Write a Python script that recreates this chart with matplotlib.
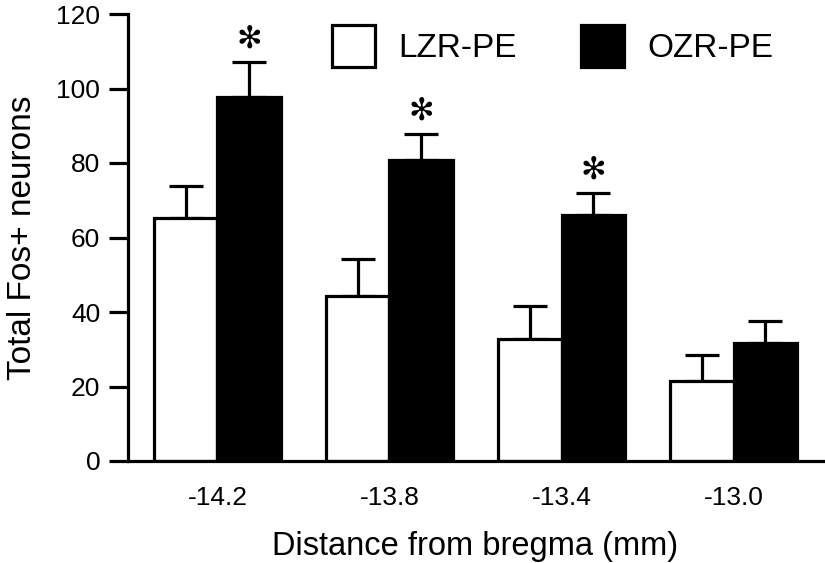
import matplotlib
matplotlib.use("Agg")
import matplotlib.pyplot as plt
import numpy as np

plt.rcParams['font.family'] = ['Liberation Sans', 'DejaVu Sans']

categories = ["-14.2", "-13.8", "-13.4", "-13.0"]
lzr_values = [65.3, 44.4, 32.8, 21.6]
lzr_err = [8.6, 9.8, 8.8, 6.8]
ozr_values = [97.8, 80.7, 66.0, 31.7]
ozr_err = [9.3, 7.0, 5.9, 5.8]
significant = [True, True, True, False]
series_labels = ["LZR-PE", "OZR-PE"]
y_ticks = [0, 20, 40, 60, 80, 100, 120]

fig = plt.figure(figsize=(8.25, 5.63), dpi=100)
ax = fig.add_axes([128/825, 1-461/563, (823-128)/825, (461-14)/563])

x = np.arange(len(categories))
w = 0.37
lw = 2.3

ax.bar(x - w/2, lzr_values, w, color='white', edgecolor='black', linewidth=lw,
       label=series_labels[0], zorder=2)
ax.bar(x + w/2, ozr_values, w, color='black', edgecolor='black', linewidth=lw,
       label=series_labels[1], zorder=2)

zeros = [0]*len(categories)
ax.errorbar(x - w/2, lzr_values, yerr=[zeros, lzr_err], fmt='none', ecolor='black',
            elinewidth=lw, capsize=12, capthick=lw, zorder=1)
ax.errorbar(x + w/2, ozr_values, yerr=[zeros, ozr_err], fmt='none', ecolor='black',
            elinewidth=lw, capsize=12, capthick=lw, zorder=1)

for xi, v, e, s in zip(x, ozr_values, ozr_err, significant):
    if s:
        ax.text(xi + w/2, v + e + 6.3, "\u273B", ha='center', va='center', fontsize=22,
                family='DejaVu Sans', color='black')

ax.set_xlim(-0.52, 3.52)
ax.set_ylim(0, 120)
ax.set_yticks(y_ticks)
ax.set_xticks(x)
ax.set_xticklabels(categories)
ax.tick_params(axis='y', length=14, width=lw, labelsize=19, pad=6)
ax.tick_params(axis='x', length=0, labelsize=19, pad=18)
for sp in ['top', 'right']:
    ax.spines[sp].set_visible(False)
for sp in ['left', 'bottom']:
    ax.spines[sp].set_linewidth(lw)

ax.set_ylabel("Total Fos+ neurons", fontsize=24, labelpad=13)
ax.set_xlabel("Distance from bregma (mm)", fontsize=23.5, labelpad=15)

ax.legend(ncol=2, frameon=False, fontsize=24, handlelength=1.3, handleheight=1.55,
          handletextpad=0.7, columnspacing=1.9, borderpad=0, borderaxespad=0,
          loc='upper left', bbox_to_anchor=((332-128)/695, (461-25)/447))

fig.savefig("out.png", dpi=100)
